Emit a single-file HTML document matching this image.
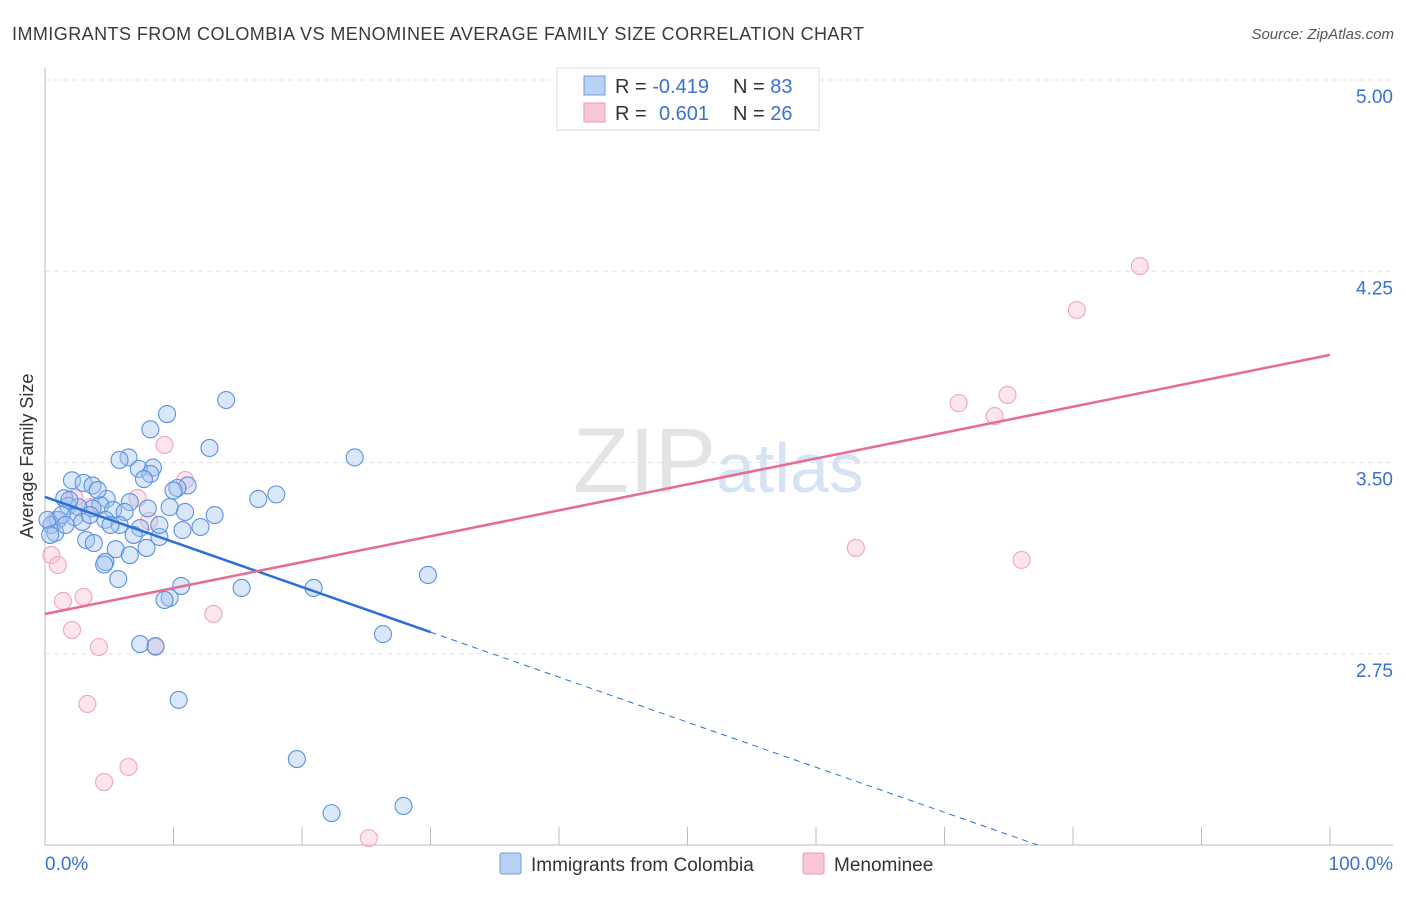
<!DOCTYPE html>
<html><head><meta charset="utf-8"><style>
body{margin:0;background:#fff;font-family:"Liberation Sans",sans-serif;}
svg text{font-family:"Liberation Sans",sans-serif;}
</style></head><body>
<svg id="c" width="1406" height="892" xmlns="http://www.w3.org/2000/svg">
<text x="12" y="40" font-size="18" fill="#3a3a3a" textLength="852">IMMIGRANTS FROM COLOMBIA VS MENOMINEE AVERAGE FAMILY SIZE CORRELATION CHART</text>
<text x="1394" y="39" font-size="15" fill="#555" font-style="italic" text-anchor="end">Source: ZipAtlas.com</text>
<text x="33" y="456" font-size="18" fill="#333" text-anchor="middle" transform="rotate(-90 33 456)">Average Family Size</text>
<text x="716" y="492" font-size="92" fill="#e4e4e4" text-anchor="end" font-family="Liberation Serif">ZIP</text>
<text x="716" y="492" font-size="70" fill="#d6e3f4">atlas</text>
<g id="grid"></g><g id="axes"></g><g id="pts"></g><g id="trend"></g>
<g>
<rect x="557" y="68" width="262" height="62" fill="#fff" stroke="#ddd"/>
<rect x="584" y="76" width="21" height="19" fill="#b7d2f5" stroke="#6d9de0"/>
<rect x="584" y="103" width="21" height="19" fill="#f9c6d6" stroke="#eb9ab4"/>
<text x="615" y="93" font-size="20" fill="#333">R = <tspan fill="#3a72d0">-0.419</tspan><tspan x="733">N = </tspan><tspan fill="#3a72d0">83</tspan></text>
<text x="615" y="120" font-size="20" fill="#333">R = <tspan x="659" fill="#3a72d0">0.601</tspan><tspan x="733">N = </tspan><tspan fill="#3a72d0">26</tspan></text>
</g>
<g>
<rect x="500" y="853" width="21" height="21" fill="#b7d2f5" stroke="#6d9de0" rx="2"/>
<text x="531" y="871" font-size="19" fill="#333">Immigrants from Colombia</text>
<rect x="803" y="853" width="21" height="21" fill="#f9c6d6" stroke="#eb9ab4" rx="2"/>
<text x="834" y="871" font-size="19" fill="#333">Menominee</text>
</g>
</svg>
<script>
const blueX=[14.1,9.5,8.2,12.8,6.5,24.1,5.8,8.4,7.3,8.2,7.7,2.1,3.0,3.7,11.1,10.3,10.0,18.0,16.6,4.8,1.5,6.6,4.3,3.7,1.8,2.6,5.3,8.0,10.9,9.7,13.2,2.3,4.7,6.2,5.8,2.9,1.0,12.1,10.7,7.4,6.9,8.9,0.5,0.8,3.2,3.8,5.5,7.9,6.6,4.7,4.6,5.7,15.3,20.9,10.6,9.7,9.3,29.8,26.3,7.4,8.6,10.4,19.6,22.3,27.9,0.2,0.4,1.3,1.9,5.1,4.1,8.9,3.5,1.6];
const blueY=[3.745,3.69,3.63,3.557,3.52,3.52,3.51,3.48,3.475,3.455,3.435,3.43,3.42,3.41,3.41,3.40,3.39,3.375,3.357,3.357,3.36,3.345,3.333,3.32,3.33,3.325,3.314,3.32,3.306,3.325,3.294,3.286,3.275,3.306,3.255,3.267,3.275,3.247,3.235,3.243,3.216,3.208,3.255,3.224,3.196,3.184,3.16,3.165,3.137,3.11,3.10,3.043,3.008,3.008,3.016,2.969,2.961,3.059,2.827,2.788,2.78,2.569,2.337,2.125,2.153,3.275,3.216,3.294,3.353,3.255,3.392,3.255,3.294,3.255];
const pinkX=[85.2,80.3,74.9,71.1,73.9,63.1,76.0,9.3,10.9,7.2,2.3,8.1,0.5,1.0,1.4,3.0,2.1,13.1,4.2,8.6,3.3,6.5,4.6,25.2,3.5,0.8];
const pinkY=[4.27,4.098,3.765,3.733,3.682,3.165,3.118,3.569,3.431,3.361,3.361,3.271,3.137,3.098,2.957,2.973,2.843,2.906,2.776,2.776,2.553,2.306,2.247,2.027,3.325,3.275];
const yTicks=[2.75,3.5,4.25,5.0];
const yTickLabels=["2.75","3.50","4.25","5.00"];
const blueTrend=[3.365,-0.01767];
const pinkTrend=[2.906,0.01016];
const NS="http://www.w3.org/2000/svg";
const X=v=>45+v*12.85, Y=v=>845-(v-2)*255;
function mk(t,a,p){const e=document.createElementNS(NS,t);for(const k in a)e.setAttribute(k,a[k]);document.getElementById(p).appendChild(e);return e;}
yTicks.forEach((t,i)=>{
 const g=mk('line',{x1:45,x2:1393,y1:Y(t),y2:Y(t),stroke:'#e4e4e4','stroke-dasharray':'5,4'},'grid');
 
 
 const l=mk('text',{x:1393,y:Y(t)+23,'font-size':19,fill:'#3a72d0','text-anchor':'end'},'grid');
 l.textContent=yTickLabels[i];
 
 
});
let a=mk('line',{x1:45,x2:45,y1:68,y2:845,stroke:'#bbb'},'axes');


a=mk('line',{x1:45,x2:1393,y1:845,y2:845,stroke:'#bbb'},'axes');


for(let i=1;i<=10;i++){const t=mk('line',{x1:X(i*10),x2:X(i*10),y1:827,y2:845,stroke:'#bbb'},'axes');
 
 }
let tl=mk('text',{x:45,y:870,'font-size':19,fill:'#3a72d0'},'axes');tl.textContent='0.0%';


tl=mk('text',{x:1393,y:870,'font-size':19,fill:'#3a72d0','text-anchor':'end'},'axes');tl.textContent='100.0%';


pinkX.forEach((x,i)=>{const c=mk('circle',{cx:X(x),cy:Y(pinkY[i]),r:8.5,fill:'rgba(249,190,210,0.4)',stroke:'#efa5be','stroke-width':1.1},'pts');
 
 });
blueX.forEach((x,i)=>{const c=mk('circle',{cx:X(x),cy:Y(blueY[i]),r:8.5,fill:'rgba(160,196,240,0.4)',stroke:'#5a92e0','stroke-width':1.1},'pts');
 
 });
const bEnd=(2-blueTrend[0])/blueTrend[1];
let l=mk('line',{x1:X(0),y1:Y(blueTrend[0]),x2:X(30),y2:Y(blueTrend[0]+30*blueTrend[1]),stroke:'#2a6fd6','stroke-width':2.5},'trend');


l=mk('line',{x1:X(30),y1:Y(blueTrend[0]+30*blueTrend[1]),x2:X(bEnd),y2:Y(2),stroke:'#2a6fd6','stroke-width':1,'stroke-dasharray':'6,5'},'trend');


l=mk('line',{x1:X(0),y1:Y(pinkTrend[0]),x2:X(100),y2:Y(pinkTrend[0]+100*pinkTrend[1]),stroke:'#e56a94','stroke-width':2.5},'trend');


</script>
</body></html>
